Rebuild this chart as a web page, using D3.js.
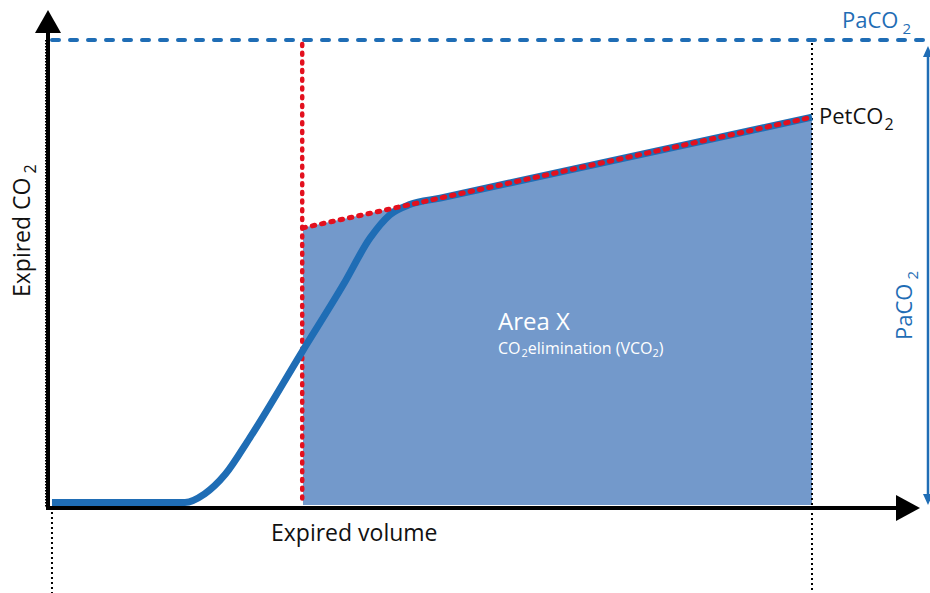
<!DOCTYPE html>
<html>
<head>
<meta charset="utf-8">
<script src="https://cdn.jsdelivr.net/npm/d3@7"></script>
<style>
  html, body { margin: 0; padding: 0; background: #fff; }
  svg { display: block; }
  text { font-family: "Open Sans", "Noto Sans", sans-serif; }
</style>
</head>
<body>
<svg id="chart" width="930" height="593"></svg>
<script>
// ---- data (volume in % of expired tidal volume, CO2 in arbitrary units) ----
const curveVolume = [0.26, 9.0, 17.7, 20.3, 23.0, 26.2, 33.1, 38.5, 42.0, 44.6, 47.2, 51.2, 100];
const curveCO2    = [0.27, 0.27, 0.27, 1.2, 3.3, 7.2, 16.5, 23.7, 28.7, 31.2, 32.3, 33.0, 41.7];
const phase3Volume = [33.2, 100];
const phase3CO2    = [29.8, 41.7];
const deadSpaceVolume = 33.1;
const endVolume = 100;
const paCO2 = 50;
const petCO2 = 41.7;
const labels = {
  xAxis: "Expired volume",
  yAxis: "Expired CO",
  area: "Area X",
  pa: "PaCO",
  pet: "PetCO"
};

const svg = d3.select("#chart");
const x = d3.scaleLinear().domain([0, 100]).range([50, 812]);
const y = d3.scaleLinear().domain([0, 50]).range([505, 40]);

const blue = "#1f6db5";
const red = "#e3101e";
const fill = "#7399cb";

// filled area (Area X)
const areaPts = phase3Volume.map((v, i) => ({v, c: phase3CO2[i]}));
svg.append("path")
  .datum(areaPts)
  .attr("d", d3.area().x(d => x(d.v)).y0(y(0)).y1(d => y(d.c)))
  .attr("fill", fill);

// PaCO2 dashed horizontal
svg.append("line")
  .attr("x1", 52).attr("x2", 926)
  .attr("y1", y(paCO2)).attr("y2", y(paCO2))
  .attr("stroke", blue).attr("stroke-width", 4)
  .attr("stroke-dasharray", "7 11").attr("stroke-linecap", "round");

// black dotted verticals
svg.append("line")
  .attr("x1", x(endVolume)).attr("x2", x(endVolume))
  .attr("y1", y(paCO2) + 3).attr("y2", 593)
  .attr("stroke", "#000").attr("stroke-width", 2)
  .attr("stroke-dasharray", "2 3");
svg.append("line")
  .attr("x1", x(curveVolume[0])).attr("x2", x(curveVolume[0]))
  .attr("y1", 512).attr("y2", 593)
  .attr("stroke", "#000").attr("stroke-width", 2)
  .attr("stroke-dasharray", "2 3");

// red dotted vertical (airway dead space limit)
svg.append("line")
  .attr("x1", x(deadSpaceVolume)).attr("x2", x(deadSpaceVolume))
  .attr("y1", y(paCO2) + 4).attr("y2", y(0))
  .attr("stroke", red).attr("stroke-width", 4.5)
  .attr("stroke-dasharray", "2 6.7").attr("stroke-linecap", "round");

// capnogram curve
const curvePts = curveVolume.map((v, i) => ({v, c: curveCO2[i]}));
svg.append("path")
  .datum(curvePts)
  .attr("d", d3.line().x(d => x(d.v)).y(d => y(d.c)).curve(d3.curveMonotoneX))
  .attr("fill", "none").attr("stroke", blue).attr("stroke-width", 7)
  .attr("stroke-linecap", "butt");

// phase III red dotted line
svg.append("path")
  .datum(areaPts)
  .attr("d", d3.line().x(d => x(d.v)).y(d => y(d.c)))
  .attr("fill", "none").attr("stroke", red).attr("stroke-width", 5)
  .attr("stroke-dasharray", "2.5 7").attr("stroke-linecap", "round");

// axes
svg.append("line").attr("x1", 46).attr("x2", 46).attr("y1", 40).attr("y2", 508)
  .attr("stroke", "#000").attr("stroke-width", 2).attr("stroke-dasharray", "1.5 1.5");
svg.append("line").attr("x1", 48).attr("x2", 48).attr("y1", 28).attr("y2", 510)
  .attr("stroke", "#000").attr("stroke-width", 4);
svg.append("path").attr("d", "M48,10 L35,33 L61,33 Z").attr("fill", "#000");
svg.append("line").attr("x1", 46).attr("x2", 900).attr("y1", 508).attr("y2", 508)
  .attr("stroke", "#000").attr("stroke-width", 4);
svg.append("path").attr("d", "M920,508 L896,495 L896,521 Z").attr("fill", "#000");

// PaCO2 double arrow on the right
svg.append("line").attr("x1", 928).attr("x2", 928).attr("y1", 54).attr("y2", 497)
  .attr("stroke", blue).attr("stroke-width", 2.5);
svg.append("path").attr("d", "M928,46 L923,57 L933,57 Z").attr("fill", blue);
svg.append("path").attr("d", "M928,505 L923,494 L933,494 Z").attr("fill", blue);

// texts
function sub(sel, main, subSize, dy, gap) {
  sel.append("tspan").text(main);
  sel.append("tspan").attr("font-size", subSize).attr("dx", gap).attr("dy", dy).text("2");
}

svg.append("text").attr("x", 271).attr("y", 541)
  .attr("font-size", 23).attr("fill", "#111").text(labels.xAxis);

const yl = svg.append("text").attr("transform", "translate(30,297) rotate(-90)")
  .attr("font-size", 23).attr("fill", "#111");
sub(yl, labels.yAxis, 16, 6, 4);

const pa = svg.append("text").attr("x", 842).attr("y", 28)
  .attr("font-size", 22).attr("fill", blue);
sub(pa, labels.pa, 15, 6, 4);

const pet = svg.append("text").attr("x", 819).attr("y", 124)
  .attr("font-size", 22).attr("fill", "#111");
sub(pet, labels.pet, 16, 6, 1);

const pa2 = svg.append("text").attr("transform", "translate(912,340) rotate(-90)")
  .attr("font-size", 22).attr("fill", blue);
sub(pa2, labels.pa, 15, 6, 4);

svg.append("text").attr("x", 498).attr("y", 330)
  .attr("font-size", 24).attr("fill", "#fff").text(labels.area);

const st = svg.append("text").attr("x", 498).attr("y", 354)
  .attr("font-size", 16).attr("fill", "#fff");
st.append("tspan").text("CO");
st.append("tspan").attr("font-size", 11).attr("dx", 1).attr("dy", 3).text("2");
st.append("tspan").attr("dy", -3).text("elimination (VCO");
st.append("tspan").attr("font-size", 11).attr("dy", 3).text("2");
st.append("tspan").attr("dy", -3).text(")");
</script>
</body>
</html>
